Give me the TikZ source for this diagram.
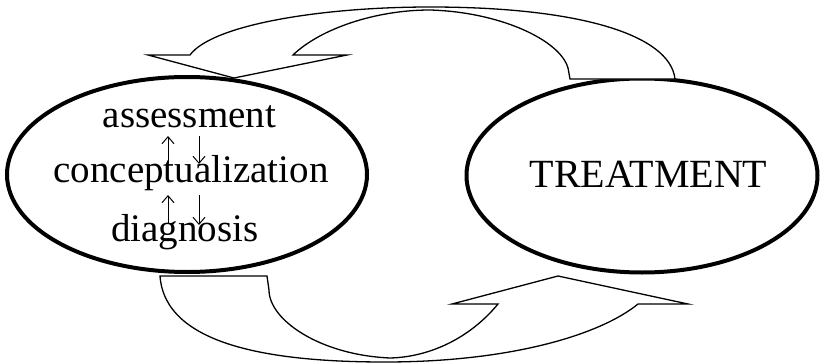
\documentclass[tikz,border=0pt]{standalone}
\usepackage{fontspec}
\setmainfont{Liberation Serif}
\usetikzlibrary{shapes.geometric,arrows.meta}

\tikzset{
  phase/.style={ellipse, draw, line width=4pt, inner sep=0pt},
  word/.style={anchor=base, inner sep=0pt, font=\fontsize{39}{47}\selectfont},
  bigword/.style={anchor=base, inner sep=0pt, font=\fontsize{40}{48}\selectfont},
  flow/.style={draw, line width=1.3pt, line join=miter, fill=white},
  link/.style={line width=1pt, -{Straight Barb[length=7pt,width=12pt,line width=1pt]}}
}

\begin{document}
\begin{tikzpicture}[x=1pt,y=-1pt]
  \useasboundingbox (0,0) rectangle (820,364);

  % the two phases
  \node[phase, minimum width=360pt, minimum height=195pt] (assess) at (187,174.5) {};
  \node[phase, minimum width=351pt, minimum height=194pt] (treat) at (642,175.5) {};

  % curved block arrow from TREATMENT back to assessment (top)
  \draw[flow] (675,79)
      .. controls (670,35) and (580,7) .. (430,7)
      .. controls (320,7) and (212,25) .. (190,55)
      -- (148,55) -- (234,78) -- (347,55) -- (293,55)
      .. controls (320,29) and (375,10) .. (430,10)
      .. controls (500,12) and (560,40) .. (568,68)
      -- (570,79) -- cycle;

  % curved block arrow from assessment to TREATMENT (bottom)
  \draw[flow] (160,276)
      .. controls (165,345) and (270,362) .. (385,362)
      .. controls (510,362) and (600,335) .. (638,304)
      -- (688,304) -- (558,276) -- (452,304) -- (498,304)
      .. controls (470,338) and (430,357) .. (390,358)
      .. controls (320,355) and (269,320) .. (269,290)
      -- (267,276) -- cycle;

  % texts
  \node[word] (asm) at (189.5,127) {assessment};
  \node[word] (con) at (191,182.5) {conceptualization};
  \node[word] (dia) at (185,241) {diagnosis};
  \node[bigword] (trt) at (648.5,187) {TREATMENT};

  % ends of the small up/down arrows
  \coordinate (u1s) at (168,163); \coordinate (u1e) at (168,136);
  \coordinate (d1s) at (199,136); \coordinate (d1e) at (199,164);
  \coordinate (u2s) at (168,224); \coordinate (u2e) at (168,195);
  \coordinate (d2s) at (199,195); \coordinate (d2e) at (199,225);

  \draw[link] (u1s) -- (u1e);
  \draw[link] (d1s) -- (d1e);
  \draw[link] (u2s) -- (u2e);
  \draw[link] (d2s) -- (d2e);
\end{tikzpicture}
\end{document}
